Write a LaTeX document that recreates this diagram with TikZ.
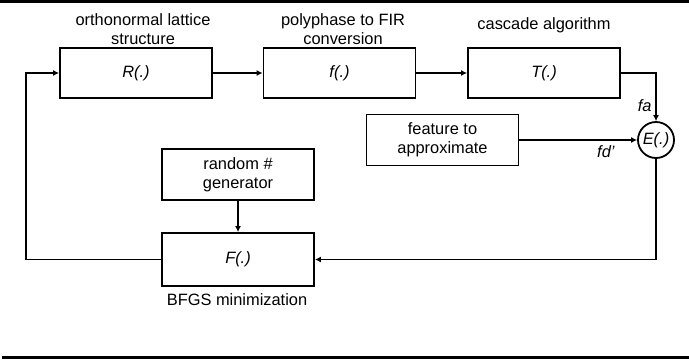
\documentclass[tikz,border=0pt]{standalone}
\usepackage{fontspec}
\setmainfont{Liberation Sans}
\usetikzlibrary{arrows.meta, positioning}

\tikzset{
  blk/.style={draw, line width=.9pt, align=center, minimum width=76pt, minimum height=25pt, inner sep=0pt},
  lbl/.style={align=center, inner sep=0pt},
  conn/.style={line width=.9pt, -{Latex[length=3pt,width=3pt]}},
}

\begin{document}
\begin{tikzpicture}[x=.5pt, y=-.5pt, font=\fontsize{8.2}{9.5}\selectfont]

\useasboundingbox (0,0) rectangle (689,359);
\fill (0,0) rectangle (689,3);
\fill (2,356) rectangle (689,359);

% forward chain
\node[blk] (lattice) at (136,73) {\textit{R(.)}};
\node[blk] (poly) at (339.5,73) {\textit{f(.)}};
\node[blk] (cascade) at (544,73) {\textit{T(.)}};
\node[lbl] (latticelbl) at (143,29) {orthonormal lattice\\structure};
\node[lbl] (polylbl) at (343,29) {polyphase to FIR\\conversion};
\node[lbl] (cascadelbl) at (544,25) {cascade algorithm};

% error and feature
\node[draw, circle, line width=.9pt, minimum size=18pt, inner sep=0pt] (err) at (656,140) {\textit{E(.)}};
\node[blk, minimum height=25.5pt] (feat) at (442.5,140) {feature to\\approximate};
\node[lbl, anchor=east] (falbl) at (652,106) {\textit{fa}};
\node[lbl] (fdlbl) at (606,152) {\textit{fd'}};

% minimization
\node[blk, minimum height=25.5pt] (rnd) at (238,174.5) {random \#\\generator};
\node[blk, minimum height=26.5pt] (bfgs) at (238,259.5) {\textit{F(.)}};
\node[lbl] (bfgslbl) at (237,300) {BFGS minimization};

\draw[conn] (lattice) -- (poly);
\draw[conn] (poly) -- (cascade);
\draw[conn] (cascade.east) -| (err.north);
\draw[conn] (feat) -- (err);
\draw[conn] (err.south) |- (bfgs.east);
\draw[conn] (rnd) -- (bfgs);
\coordinate (back) at (26,259.5);
\draw[conn] (bfgs.west) -- (back) |- (lattice.west);

\end{tikzpicture}
\end{document}
